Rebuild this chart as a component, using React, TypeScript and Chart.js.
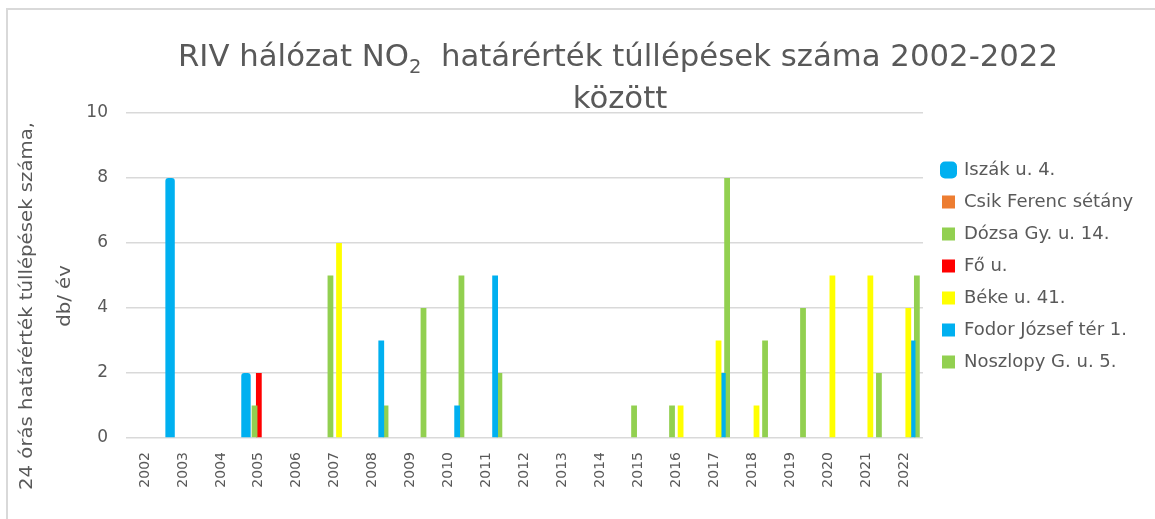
import React, { useEffect, useRef } from 'react';
import { Chart, registerables } from 'chart.js';

Chart.register(...registerables);

const N = null;

const years = ['2002', '2003', '2004', '2005', '2006', '2007', '2008', '2009', '2010', '2011', '2012',
  '2013', '2014', '2015', '2016', '2017', '2018', '2019', '2020', '2021', '2022'];

//                2002 2003 2004 2005 2006 2007 2008 2009 2010 2011 2012 2013 2014 2015 2016 2017 2018 2019 2020 2021 2022
const iszak =    [N,   8,   N,   2,   N,   N,   N,   N,   N,   N,   N,   N,   N,   N,   N,   N,   N,   N,   N,   N,   N];
const csik =     [N,   N,   N,   N,   N,   N,   N,   N,   N,   N,   N,   N,   N,   N,   N,   N,   N,   N,   N,   N,   N];
const dozsa =    [N,   N,   N,   1,   N,   5,   N,   N,   N,   N,   N,   N,   N,   1,   1,   N,   N,   N,   N,   N,   N];
const fo =       [N,   N,   N,   2,   N,   N,   N,   N,   N,   N,   N,   N,   N,   N,   N,   N,   N,   N,   N,   N,   N];
const beke =     [N,   N,   N,   N,   N,   6,   N,   N,   N,   N,   N,   N,   N,   N,   1,   3,   1,   N,   5,   5,   4];
const fodor =    [N,   N,   N,   N,   N,   N,   3,   N,   1,   5,   N,   N,   N,   N,   N,   2,   N,   N,   N,   N,   3];
const noszlopy = [N,   N,   N,   N,   N,   N,   1,   4,   5,   2,   N,   N,   N,   N,   N,   8,   3,   4,   N,   2,   5];

const seriesNames = ['Iszák u. 4.', 'Csik Ferenc sétány', 'Dózsa Gy. u. 14.', 'Fő u.', 'Béke u. 41.', 'Fodor József tér 1.', 'Noszlopy G. u. 5.'];
const seriesColors = ['#00B0F0', '#ED7D31', '#92D050', '#FF0000', '#FFFF00', '#00B0F0', '#92D050'];

const titleA = 'RIV hálózat NO';
const titleSub = '2';
const titleB = '  határérték túllépések száma 2002-2022';
const titleLine2 = 'között';
const yTitle1 = '24 órás határérték túllépések száma,';
const yTitle2 = 'db/ év';

const FONT = '"DejaVu Sans", sans-serif';
const TEXT = '#595959';
const GRID = '#d9d9d9';

const textPlugin = {
  id: 'customTexts',
  afterDraw(chart: any) {
    const ctx: CanvasRenderingContext2D = chart.ctx;
    // main title (with subscript 2)
    ctx.save();
    ctx.fillStyle = TEXT;
    ctx.textBaseline = 'alphabetic';
    ctx.textAlign = 'left';
    const big = `30px ${FONT}`;
    const small = `19px ${FONT}`;
    ctx.font = big;
    const wA = ctx.measureText(titleA).width;
    const wB = ctx.measureText(titleB).width;
    ctx.font = small;
    const wS = ctx.measureText(titleSub).width;
    const total = wA + wS + wB;
    const sx = 880 / total;
    ctx.translate(618, 66);
    ctx.scale(sx, 1);
    let x = -total / 2;
    ctx.font = big;
    ctx.fillText(titleA, x, 0);
    x += wA;
    ctx.font = small;
    ctx.fillText(titleSub, x, 7);
    x += wS;
    ctx.font = big;
    ctx.fillText(titleB, x, 0);
    ctx.restore();

    ctx.save();
    ctx.fillStyle = TEXT;
    ctx.font = big;
    ctx.textAlign = 'center';
    ctx.textBaseline = 'alphabetic';
    ctx.translate(620, 108);
    ctx.scale(sx, 1);
    ctx.fillText(titleLine2, 0, 0);
    ctx.restore();

    // y axis title (two lines)
    ctx.save();
    ctx.fillStyle = TEXT;
    ctx.font = `18px ${FONT}`;
    const w1 = ctx.measureText(yTitle1).width;
    const ys = 368 / w1;
    ctx.textAlign = 'center';
    ctx.textBaseline = 'alphabetic';
    ctx.translate(32, 306);
    ctx.rotate(-Math.PI / 2);
    ctx.scale(ys, 1);
    ctx.fillText(yTitle1, 0, 0);
    ctx.restore();

    ctx.save();
    ctx.fillStyle = TEXT;
    ctx.font = `18px ${FONT}`;
    ctx.textAlign = 'center';
    ctx.textBaseline = 'alphabetic';
    ctx.translate(70, 296);
    ctx.rotate(-Math.PI / 2);
    ctx.scale(ys, 1);
    ctx.fillText(yTitle2, 0, 0);
    ctx.restore();
  },
};

const legendPlacer = {
  id: 'legendPlacer',
  afterLayout(chart: any) {
    const lg = chart.legend;
    if (!lg) return;
    const w = lg.width;
    const h = lg.bottom - lg.top;
    lg.left = 928;
    lg.right = 928 + w;
    lg.top = 63;
    lg.bottom = 63 + h;
  },
};

export default function App() {
  const canvasRef = useRef<HTMLCanvasElement | null>(null);

  useEffect(() => {
    const canvas = canvasRef.current;
    if (!canvas) return;
    const values = [iszak, csik, dozsa, fo, beke, fodor, noszlopy];
    const datasets = values.map((data, i) => ({
      label: seriesNames[i],
      data,
      backgroundColor: seriesColors[i],
      borderColor: seriesColors[i],
      borderWidth: 0,
      borderRadius: i === 0 ? 3 : 0,
      categoryPercentage: 0.79,
      barPercentage: i === 0 ? 2.2 : 1.35,
    }));
    const chart = new Chart(canvas, {
      type: 'bar',
      data: { labels: years, datasets },
      options: {
        responsive: false,
        animation: false,
        layout: { padding: { top: 113, left: 0, right: 0, bottom: 0 } },
        plugins: {
          title: { display: false },
          tooltip: { enabled: false },
          legend: {
            position: 'right',
            align: 'center',
            maxWidth: 230,
            labels: {
              color: TEXT,
              font: { family: FONT, size: 18 },
              boxWidth: 13,
              boxHeight: 13,
              padding: 14,
              useBorderRadius: true,
              generateLabels: (c: any) => {
                const items = (Chart.defaults.plugins.legend.labels as any).generateLabels(c);
                if (items[0]) {
                  items[0].lineWidth = 4;
                  items[0].strokeStyle = seriesColors[0];
                  items[0].borderRadius = 3;
                }
                return items;
              },
            },
          },
        },
        scales: {
          x: {
            grid: { display: false, drawTicks: false },
            border: { display: false },
            ticks: {
              color: TEXT,
              font: { family: FONT, size: 14 },
              minRotation: 90,
              maxRotation: 90,
              padding: 14,
              autoSkip: false,
            },
            afterFit: (s: any) => {
              s.height = 81;
              s.paddingRight = 232;
            },
          },
          y: {
            min: 0,
            max: 10,
            ticks: { stepSize: 2, color: TEXT, font: { family: FONT, size: 17 }, padding: 18 },
            grid: { color: GRID, lineWidth: 1.5, drawTicks: false },
            border: { display: false },
            afterFit: (s: any) => {
              s.width = 126;
            },
          },
        },
      } as any,
      plugins: [textPlugin, legendPlacer],
    });
    return () => chart.destroy();
  }, []);

  return (
    <div style={{ position: 'fixed', left: 0, top: 0, width: 1155, height: 519, background: '#fff', overflow: 'hidden' }}>
      <div
        style={{
          position: 'absolute',
          left: 6,
          top: 8,
          width: 1160,
          height: 520,
          borderTop: '2px solid #d9d9d9',
          borderLeft: '2px solid #d9d9d9',
        }}
      />
      <canvas ref={canvasRef} width={1155} height={519} style={{ position: 'absolute', left: 0, top: 0, display: 'block' }} />
    </div>
  );
}
